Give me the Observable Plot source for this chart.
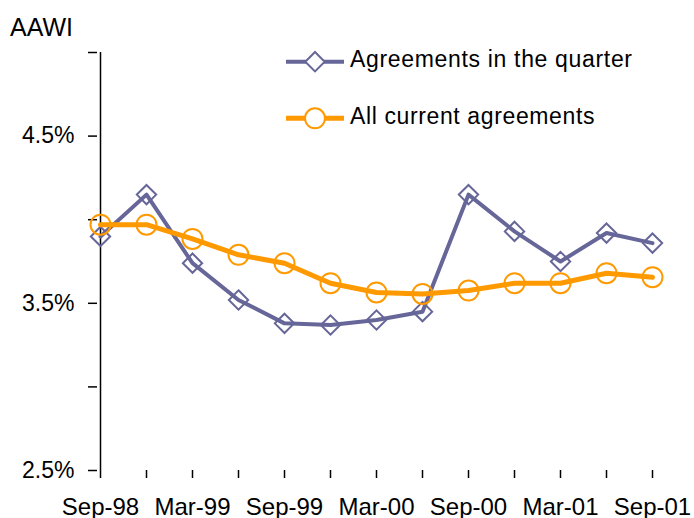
<!DOCTYPE html>
<html><head><meta charset="utf-8">
<script src="https://cdn.jsdelivr.net/npm/d3@7"></script>
<script src="https://cdn.jsdelivr.net/npm/@observablehq/plot@0.6"></script>
<style>
body{margin:0;background:#fff;font-family:"Liberation Sans",Arial,sans-serif;overflow:hidden;}
#wrap{position:relative;width:694px;height:518px;}
#wrap > svg{position:absolute;left:0;top:0;}
</style></head>
<body><div id="wrap">
<svg id="overlay" width="694" height="518" style="pointer-events:none;font-family:'Liberation Sans',Arial,sans-serif">
  <text x="10" y="36" font-size="25" fill="black">AAWI</text>
  <line x1="286" y1="61.7" x2="344" y2="61.7" stroke="#666699" stroke-width="4"/>
  <path d="M315,52L324.7,61.7L315,71.4L305.3,61.7Z" fill="white" stroke="#666699" stroke-width="2"/>
  <text x="350" y="67.3" font-size="23" letter-spacing="0.67" fill="black">Agreements in the quarter</text>
  <line x1="286" y1="118.3" x2="344" y2="118.3" stroke="#FF9900" stroke-width="5"/>
  <circle cx="315" cy="118.3" r="10" fill="white" stroke="#FF9900" stroke-width="2"/>
  <text x="350" y="124" font-size="23" letter-spacing="0.62" fill="black">All current agreements</text>
</svg>
</div>
<script>
const quarters = ["Sep-98","Dec-98","Mar-99","Jun-99","Sep-99","Dec-99","Mar-00","Jun-00","Sep-00","Dec-00","Mar-01","Jun-01","Sep-01"];
const inQuarter = [3.90,4.15,3.74,3.52,3.38,3.37,3.40,3.45,4.15,3.93,3.75,3.92,3.86];
const allCurrent = [3.97,3.97,3.885,3.79,3.74,3.62,3.565,3.556,3.576,3.62,3.62,3.68,3.656];
const xLabels = ["Sep-98","Mar-99","Sep-99","Mar-00","Sep-00","Mar-01","Sep-01"];
const yTicks = [2.5,3.0,3.5,4.0,4.5,5.0];
const yLabels = [2.5,3.5,4.5];

const dA = quarters.map((q,i)=>({q, v: inQuarter[i]}));
const dB = quarters.map((q,i)=>({q, v: allCurrent[i]}));

const chart = Plot.plot({
  width: 694, height: 518,
  marginLeft: 97, marginRight: 39, marginTop: 52, marginBottom: 48,
  style: {fontFamily: '"Liberation Sans", Arial, sans-serif', background: "transparent", overflow: "visible"},
  x: {type: "point", domain: quarters, padding: 0, label: null},
  y: {domain: [2.5, 5.0], label: null},
  marks: [
    Plot.ruleX([quarters[0]], {y1: 2.5, y2: 5.0, stroke: "black", strokeWidth: 1.5}),
    Plot.ruleY([2.5], {x1: quarters[0], x2: quarters[quarters.length-1], stroke: "black", strokeWidth: 1.5}),
    Plot.axisY({ticks: yTicks, tickSize: 9, tickPadding: 14, stroke: "black", strokeWidth: 1.5, fontSize: 23,
      tickFormat: d => yLabels.includes(d) ? d.toFixed(1) + "%" : "", fill: "black"}),
    Plot.axisX({ticks: quarters, tickSize: 8, tickPadding: 19, stroke: "black", strokeWidth: 1.5, fontSize: 24,
      tickFormat: d => xLabels.includes(d) ? d : "", fill: "black"}),
    Plot.line(dA, {x: "q", y: "v", stroke: "#666699", strokeWidth: 4}),
    Plot.dot(dA, {x: "q", y: "v", symbol: "diamond2", r: 8.7, fill: "none", stroke: "#666699", strokeWidth: 2}),
    Plot.line(dB, {x: "q", y: "v", stroke: "#FF9900", strokeWidth: 5}),
    Plot.dot(dB, {x: "q", y: "v", r: 10, fill: "none", stroke: "#FF9900", strokeWidth: 2})
  ]
});
document.getElementById("wrap").prepend(chart);
</script>
</body></html>
